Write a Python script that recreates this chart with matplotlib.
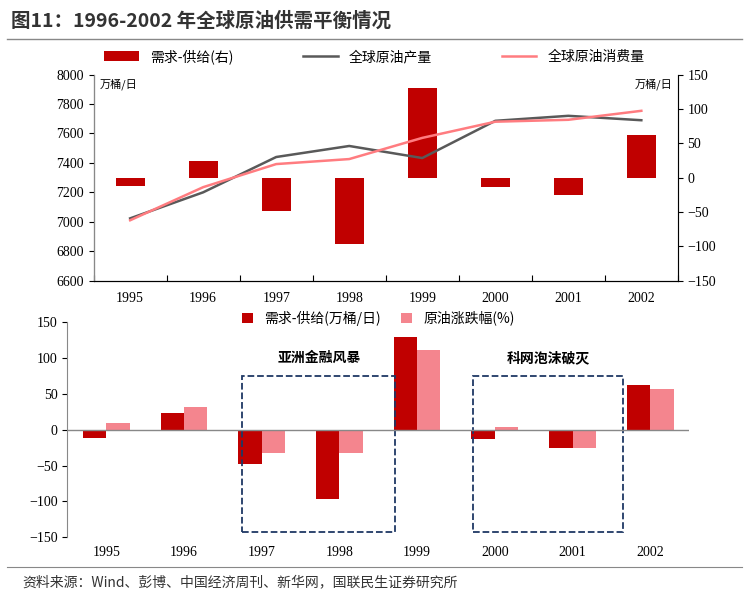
import matplotlib
matplotlib.use("Agg")
import matplotlib.pyplot as plt
from matplotlib.patches import Rectangle
import numpy as np

plt.rcParams['font.family'] = ['Noto Sans CJK SC', 'DejaVu Sans']

years = ['1995','1996','1997','1998','1999','2000','2001','2002']
gap = [-12, 24, -48, -97, 130, -13, -26, 62]
production = [7023, 7200, 7440, 7515, 7433, 7686, 7720, 7690]
consumption = [7010, 7235, 7392, 7426, 7570, 7680, 7693, 7754]
price_chg = [10, 32, -32, -32, 112, 4, -25, 57]

dark = '#C00000'; pink = '#FF7C80'; grey = '#595959'; lpink = '#F4858E'
x = np.arange(len(years))

fig = plt.figure(figsize=(7.49, 5.97), dpi=100)
fig.text(0.015, 0.965, '图11：1996-2002 年全球原油供需平衡情况', fontsize=14, fontweight='bold', color='#333333', va='center')
fig.add_artist(plt.Line2D([0.01, 0.99], [0.935, 0.935], color='#888888', lw=1))

ax = fig.add_axes([0.125, 0.53, 0.78, 0.345])
ax2 = ax.twinx()
ax.set_zorder(2); ax.patch.set_visible(False)
ax2.bar(x, gap, width=0.4, color=dark, label='需求-供给(右)')
ax.plot(x, production, color=grey, lw=1.8, label='全球原油产量')
ax.plot(x, consumption, color=pink, lw=1.8, label='全球原油消费量')
ax.set_ylim(6600, 8000); ax.set_yticks(range(6600, 8001, 200))
ax2.set_ylim(-150, 150); ax2.set_yticks(range(-150, 151, 50))
ax.set_xlim(-0.5, 7.5)
ax.set_xticks(np.arange(-0.5, 7.6, 1)); ax.set_xticklabels([])
ax.set_xticks(x, minor=True); ax.set_xticklabels(years, minor=True, fontfamily='Liberation Serif', fontsize=10)
ax.tick_params(axis='x', which='minor', length=0, pad=8)
ax.tick_params(axis='x', which='major', direction='in', length=4)
for a in (ax, ax2):
    a.spines['top'].set_visible(False)
    for t in a.get_yticklabels(): t.set_fontfamily('Liberation Serif'); t.set_fontsize(10)
ax.spines['left'].set_color('#888888'); ax2.spines['right'].set_color('#888888')
ax.text(0.01, 0.98, '万桶/日', transform=ax.transAxes, fontsize=8, va='top')
ax.text(0.99, 0.98, '万桶/日', transform=ax.transAxes, fontsize=8, va='top', ha='right')
h1, l1 = ax2.get_legend_handles_labels(); h2, l2 = ax.get_legend_handles_labels()
fig.legend(h1 + h2, l1 + l2, loc='center', bbox_to_anchor=(0.5, 0.905), ncol=3, frameon=False, fontsize=10, columnspacing=5, handlelength=2.5)

bx = fig.add_axes([0.09, 0.1, 0.83, 0.36])
w = 0.3
bx.bar(x - w/2, gap, width=w, color=dark, label='需求-供给(万桶/日)')
bx.bar(x + w/2, price_chg, width=w, color=lpink, label='原油涨跌幅(%)')
bx.set_ylim(-150, 150); bx.set_yticks(range(-150, 151, 50))
bx.set_xlim(-0.5, 7.5)
bx.axhline(0, color='#888888', lw=1)
bx.set_xticks(x); bx.set_xticklabels(years, fontfamily='Liberation Serif', fontsize=10)
bx.tick_params(axis='x', length=0, pad=6)
for t in bx.get_yticklabels(): t.set_fontfamily('Liberation Serif'); t.set_fontsize(10)
for s in ('top', 'right', 'bottom'): bx.spines[s].set_visible(False)
bx.spines['left'].set_color('#888888')
bx.legend(loc='center', bbox_to_anchor=(0.5, 1.02), ncol=2, frameon=False, fontsize=10, handlelength=0.8, columnspacing=1.5)
for x0, x1, lab in [(1.75, 3.72, '亚洲金融风暴'), (4.72, 6.65, '科网泡沫破灭')]:
    bx.add_patch(Rectangle((x0, -143), x1 - x0, 218, fill=False, ls='--', ec='#1F3864', lw=1.3))
    bx.text((x0 + x1) / 2, 100, lab, ha='center', va='center', fontsize=10, fontweight='bold')

fig.text(0.03, 0.025, '资料来源：Wind、彭博、中国经济周刊、新华网，国联民生证券研究所', fontsize=10, color='#333333', va='center')
fig.add_artist(plt.Line2D([0.01, 0.99], [0.05, 0.05], color='#888888', lw=0.8))
fig.savefig('out.png', dpi=100)
